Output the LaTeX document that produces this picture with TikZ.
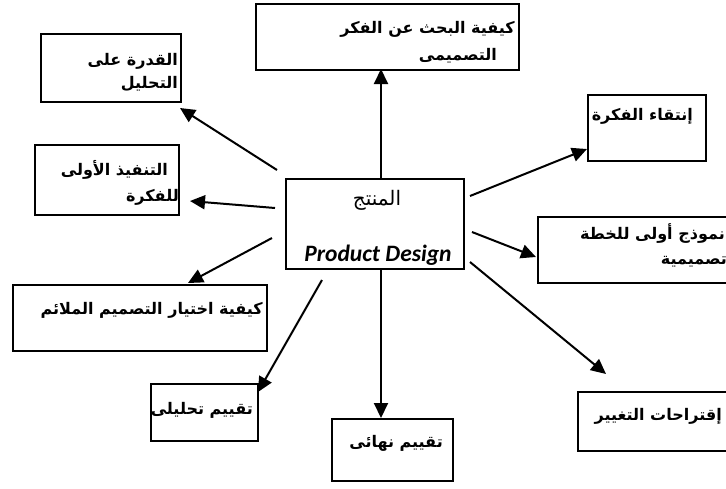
\documentclass[tikz,border=0pt]{standalone}
\usepackage{fontspec}
\newfontfamily\arabicfont[Script=Arabic]{DejaVu Sans}
\newfontfamily\calib{Carlito}
\TeXXeTstate=1
\usetikzlibrary{arrows.meta}
\tikzset{
  box/.style={draw, line width=1.6pt, inner sep=0pt, anchor=north west},
  ar/.style={font=\arabicfont\bfseries\fontsize{16}{18}\selectfont, inner sep=0pt, anchor=base east},
  conn/.style={line width=2pt, -{Triangle[length=15pt,width=14pt]}}
}
\begin{document}
\begin{tikzpicture}[x=1pt,y=-1pt]
\useasboundingbox (0,0) rectangle (726,488);
% boxes
\node[box, minimum width=263pt, minimum height=66pt] (bTop) at (255,3) {};
\node[box, minimum width=140pt, minimum height=68pt] (bQ) at (40,33) {};
\node[box, minimum width=144pt, minimum height=70pt] (bT) at (34,144) {};
\node[box, minimum width=254pt, minimum height=66pt] (bK) at (12,284) {};
\node[box, minimum width=107pt, minimum height=57pt] (bTT) at (150,383) {};
\node[box, minimum width=121pt, minimum height=62pt] (bN) at (331,418) {};
\node[box, minimum width=170pt, minimum height=59pt] (bI) at (577,391) {};
\node[box, minimum width=210pt, minimum height=66pt] (bM) at (537,216) {};
\node[box, minimum width=118pt, minimum height=66pt] (bE) at (587,94) {};
\node[box, minimum width=178pt, minimum height=90pt] (bC) at (285,178) {};
% texts
\node[ar] (tTop1) at (515,33) {\beginR كيفية البحث عن الفكر\endR};
\node[ar] (tTop2) at (497,60) {\beginR التصميمى\endR};
\node[ar] (tQ1) at (178,65) {\beginR القدرة على\endR};
\node[ar] (tQ2) at (178,88) {\beginR التحليل\endR};
\node[ar] (tT1) at (168,175) {\beginR التنفيذ الأولى\endR};
\node[ar] (tT2) at (179,201) {\beginR للفكرة\endR};
\node[ar] (tK) at (263,314) {\beginR كيفية اختيار التصميم الملائم\endR};
\node[ar] (tTT) at (253,414) {\beginR تقييم تحليلى\endR};
\node[ar] (tN) at (443,447) {\beginR تقييم نهائى\endR};
\node[ar] (tI) at (722,420) {\beginR إقتراحات التغيير\endR};
\node[ar] (tM1) at (725,239) {\beginR نموذج أولى للخطة\endR};
\node[ar] (tM2) at (727,264) {\beginR تصميمية\endR};
\node[ar] (tE) at (693,120) {\beginR إنتقاء الفكرة\endR};
\node[inner sep=0pt, anchor=base, font=\arabicfont\fontsize{20}{22}\selectfont] (tC1) at (377,205) {\beginR المنتج\endR};
\node[inner sep=0pt, anchor=base, font=\calib\bfseries\itshape\fontsize{23.5}{25}\selectfont] (tC2) at (378,261) {Product Design};
% connector endpoints
\coordinate (s1) at (381,178); \coordinate (e1) at (381,69);
\coordinate (s2) at (381,268); \coordinate (e2) at (381,418);
\coordinate (s3) at (277,170); \coordinate (e3) at (180,108);
\coordinate (s4) at (275,208); \coordinate (e4) at (190,201);
\coordinate (s5) at (272,238); \coordinate (e5) at (188,283);
\coordinate (s6) at (322,280); \coordinate (e6) at (258,392);
\coordinate (s7) at (470,196); \coordinate (e7) at (587,149);
\coordinate (s8) at (472,232); \coordinate (e8) at (536,257);
\coordinate (s9) at (470,262); \coordinate (e9) at (606,374);
\foreach \i in {1,...,9} { \draw[conn] (s\i) -- (e\i); }
\end{tikzpicture}
\end{document}
